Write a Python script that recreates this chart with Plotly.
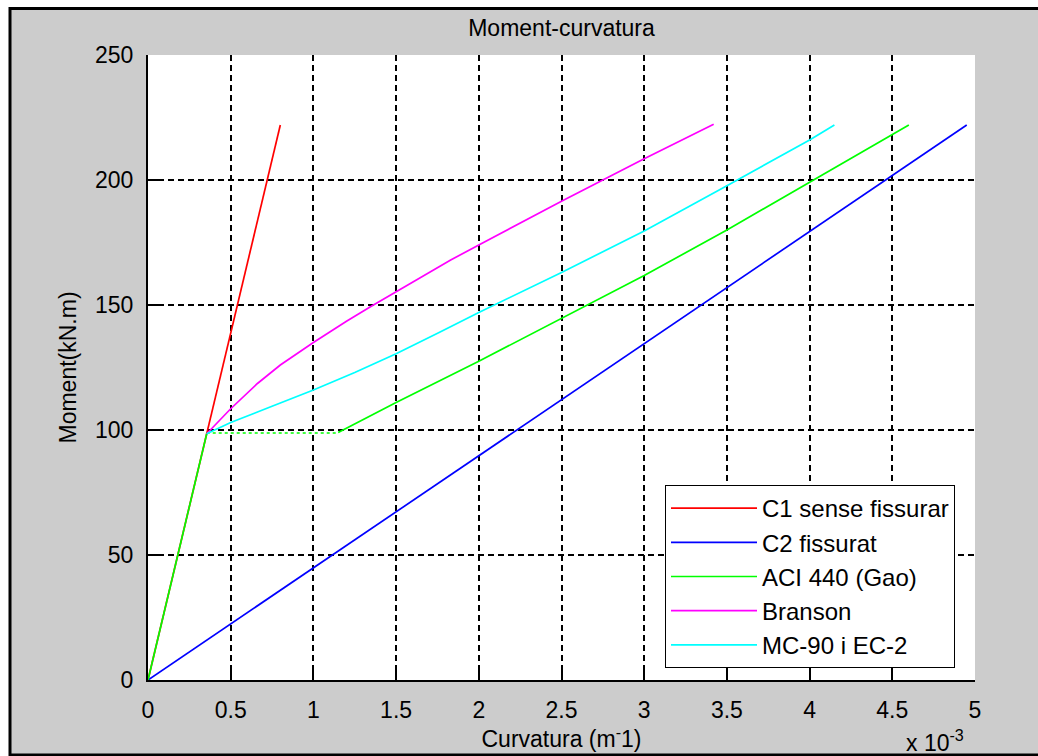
import plotly.graph_objects as go

# Curvature values in units of 1e-3 m^-1, moments in kN.m
c1_curv = [0.0, 0.355, 0.80]
c1_mom = [0.0, 98.5, 222.0]

c2_curv = [0.0, 4.95]
c2_mom = [0.0, 222.0]

aci_curv = [0.0, 0.355, None, 1.15, 1.5, 2.0, 2.5, 3.0, 3.5, 4.0, 4.6]
aci_mom = [0.0, 98.5, None, 99.0, 111.0, 127.5, 144.5, 161.8, 180.0, 199.0, 222.0]
aci_plateau_curv = [0.355, 1.15]
aci_plateau_mom = [98.8, 98.8]

branson_curv = [0.355, 0.5, 0.66, 0.8, 1.0, 1.2, 1.35, 1.5, 1.83, 2.0, 2.5, 3.0, 3.42]
branson_mom = [98.5, 108.5, 118.5, 126.0, 135.0, 143.5, 149.5, 155.3, 168.0, 174.0, 191.5, 208.5, 222.3]

mc90_curv = [0.355, 0.5, 0.75, 1.0, 1.25, 1.5, 1.76, 2.0, 2.5, 3.0, 3.5, 4.0, 4.15]
mc90_mom = [98.5, 103.0, 109.5, 116.0, 123.0, 130.5, 139.0, 147.0, 163.0, 179.6, 197.7, 216.0, 222.0]

x_ticks = [0, 0.5, 1, 1.5, 2, 2.5, 3, 3.5, 4, 4.5, 5]
y_ticks = [0, 50, 100, 150, 200, 250]

FONT = "Liberation Sans, Arial, sans-serif"
FS = 23
LFS = 24
LW = 1.7

fig = go.Figure()
fig.add_trace(go.Scatter(x=c1_curv, y=c1_mom, mode="lines", name="C1 sense fissurar",
                         line=dict(color="#ff0000", width=LW), legendgroup="a"))
fig.add_trace(go.Scatter(x=c2_curv, y=c2_mom, mode="lines", name="C2 fissurat",
                         line=dict(color="#0000ff", width=LW), legendgroup="b"))
fig.add_trace(go.Scatter(x=aci_curv, y=aci_mom, mode="lines", name="ACI 440 (Gao)",
                         line=dict(color="#00ff00", width=LW), connectgaps=False, legendgroup="c"))
fig.add_trace(go.Scatter(x=aci_plateau_curv, y=aci_plateau_mom, mode="lines", showlegend=False,
                         line=dict(color="#00ff00", width=LW, dash="dot"), legendgroup="c"))
fig.add_trace(go.Scatter(x=branson_curv, y=branson_mom, mode="lines", name="Branson",
                         line=dict(color="#ff00ff", width=LW), legendgroup="d"))
fig.add_trace(go.Scatter(x=mc90_curv, y=mc90_mom, mode="lines", name="MC-90 i EC-2",
                         line=dict(color="#00ffff", width=LW), legendgroup="e"))

W, H = 1038, 756
L, R, T, B = 148, 63, 55, 76
pw, ph = W - L - R, H - T - B


def px(xp):
    return (xp - L) / pw


def py(yp):
    return (H - B - yp) / ph


fig.update_layout(
    width=W, height=H,
    margin=dict(l=L, r=R, t=T, b=B, pad=0),
    paper_bgcolor="white",
    plot_bgcolor="white",
    font=dict(family=FONT, size=FS, color="black"),
    title=dict(text="Moment-curvatura", x=0.5, xref="paper", xanchor="center",
               y=1 - 28 / H, yref="container", yanchor="middle",
               font=dict(family=FONT, size=FS, color="black")),
    shapes=[
        dict(type="rect", xref="paper", yref="paper", x0=px(10), x1=px(1060), y0=py(755), y1=py(8.5),
             fillcolor="#cccccc", line=dict(color="black", width=3), layer="below"),
        dict(type="rect", xref="paper", yref="paper", x0=0, x1=1, y0=0, y1=1,
             fillcolor="white", line=dict(width=0), layer="below"),
    ],
    legend=dict(x=px(955), y=py(668), xanchor="right", yanchor="bottom",
                bgcolor="white", bordercolor="black", borderwidth=1,
                font=dict(family=FONT, size=LFS, color="black"),
                tracegroupgap=0, itemwidth=86),
    annotations=[
        dict(text="x 10<sup>-3</sup>", xref="paper", yref="paper", x=px(966), y=py(741),
             xanchor="right", yanchor="middle", showarrow=False,
             font=dict(family=FONT, size=FS, color="black")),
    ],
)

fig.update_xaxes(range=[0, 5], tickvals=x_ticks, ticktext=[f"{v:g}" for v in x_ticks],
                 showgrid=True, gridcolor="black", gridwidth=1.5, griddash="6px,4px",
                 showline=True, linecolor="black", linewidth=2, mirror=False,
                 ticks="inside", ticklen=12, tickwidth=1.5, tickcolor="black",
                 zeroline=False, ticklabelstandoff=8,
                 title=dict(text="Curvatura (m<sup>-</sup>1)", standoff=6,
                            font=dict(family=FONT, size=FS, color="black")))
fig.update_yaxes(range=[0, 250], tickvals=y_ticks,
                 showgrid=True, gridcolor="black", gridwidth=1.5, griddash="6px,4px",
                 showline=True, linecolor="black", linewidth=2, mirror=False,
                 ticks="inside", ticklen=12, tickwidth=1.5, tickcolor="black",
                 zeroline=False, ticklabelstandoff=8,
                 title=dict(text="Moment(kN.m)", standoff=12,
                            font=dict(family=FONT, size=FS, color="black")))

fig.write_html("out.html", config={"displayModeBar": False},
               post_script="document.body.style.margin='0';document.body.style.overflow='hidden';")
